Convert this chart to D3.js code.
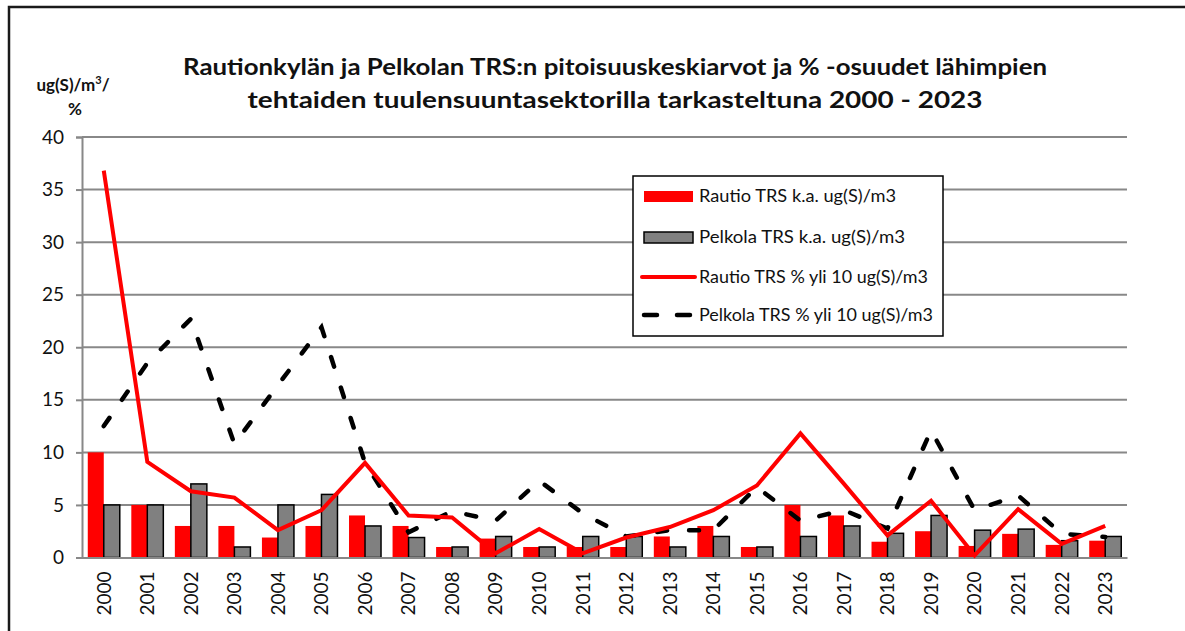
<!DOCTYPE html>
<html>
<head>
<meta charset="utf-8">
<script src="https://cdn.jsdelivr.net/npm/d3@7"></script>
<style>
  body { margin: 0; background: #fff; }
  text { font-family: Lato, "Open Sans", sans-serif; }
</style>
</head>
<body>
<svg width="1185" height="631"></svg>
<script>
// data
var years = ['2000','2001','2002','2003','2004','2005','2006','2007','2008','2009','2010','2011',
             '2012','2013','2014','2015','2016','2017','2018','2019','2020','2021','2022','2023'];
var rautioKa = [10, 5, 3, 3, 1.9, 3, 4, 3, 1, 1.8, 1, 1, 1, 2, 3, 1, 5, 4, 1.5, 2.5, 1.1, 2.25, 1.2, 1.6];
var pelkolaKa = [5, 5, 7, 1, 5, 6, 3, 1.9, 1, 2, 1, 2, 2, 1, 2, 1, 2, 3, 2.3, 4, 2.6, 2.7, 1.6, 2];
var rautioPct = [36.8, 9.1, 6.3, 5.7, 2.6, 4.5, 9.0, 4.0, 3.8, 0.4, 2.7, 0.4, 1.9, 2.9, 4.5, 6.85, 11.8, 7.0, 2.1, 5.4, 0.2, 4.6, 1.3, 3.0];
var pelkolaPct = [12.5, 18.5, 22.7, 10.8, 16.4, 21.9, 9.0, 2.4, 4.4, 3.5, 7.3, 4.2, 2.0, 2.6, 2.6, 6.7, 3.5, 4.5, 2.75, 12.1, 4.5, 5.9, 2.25, 1.95];
var yTicks = [0, 5, 10, 15, 20, 25, 30, 35, 40];
var legendLabels = ['Rautio TRS k.a. ug(S)/m3', 'Pelkola TRS k.a. ug(S)/m3',
                    'Rautio TRS % yli 10 ug(S)/m3', 'Pelkola TRS % yli 10 ug(S)/m3'];
var titleLines = ['Rautionkylän ja Pelkolan TRS:n pitoisuuskeskiarvot ja % -osuudet lähimpien',
                  'tehtaiden tuulensuuntasektorilla tarkasteltuna 2000 - 2023'];

var LEFT = 82, RIGHT = 1127, TOP = 137, BOTTOM = 557.5;
var svg = d3.select('svg');

// outer chart frame (only top/left visible in the screenshot)
svg.append('rect')
  .attr('x', 9).attr('y', 7)
  .attr('width', 1300).attr('height', 800)
  .attr('fill', 'none').attr('stroke', '#1a1a1a').attr('stroke-width', 2.5);

var xScale = d3.scaleBand().domain(years).range([LEFT, RIGHT]);
var yScale = d3.scaleLinear().domain([0, 40]).range([BOTTOM, TOP]);
var sub = d3.scaleBand().domain(['r', 'p']).range([0, 32]);

// gridlines
svg.append('g').selectAll('line').data(yTicks.slice(1)).enter()
  .append('line')
  .attr('x1', LEFT).attr('x2', RIGHT)
  .attr('y1', function(d){ return yScale(d); })
  .attr('y2', function(d){ return yScale(d); })
  .attr('stroke', '#888').attr('stroke-width', 2);

// y axis
var leftAxis = d3.axisLeft(yScale).tickValues(yTicks).tickSize(6).tickPadding(12);
var yAxis = svg.append('g').attr('transform', 'translate(' + LEFT + ',0)').call(leftAxis);
yAxis.select('.domain').attr('stroke', '#888').attr('stroke-width', 2);
yAxis.selectAll('.tick line').attr('stroke', '#888').attr('stroke-width', 2);
yAxis.selectAll('.tick text').attr('font-size', 19).attr('fill', '#111')
  .style('font-family', 'Lato, sans-serif');

// bars
var bars = svg.append('g');
bars.selectAll('rect.r').data(rautioKa).enter().append('rect')
  .attr('class', 'r')
  .attr('x', function(d, i){ return xScale(years[i]) + xScale.bandwidth() / 2 - 16 + sub('r'); })
  .attr('y', function(d){ return yScale(d); })
  .attr('width', sub.bandwidth())
  .attr('height', function(d){ return BOTTOM - yScale(d); })
  .attr('fill', '#ff0000');
bars.selectAll('rect.p').data(pelkolaKa).enter().append('rect')
  .attr('class', 'p')
  .attr('x', function(d, i){ return xScale(years[i]) + xScale.bandwidth() / 2 - 16 + sub('p'); })
  .attr('y', function(d){ return yScale(d); })
  .attr('width', sub.bandwidth())
  .attr('height', function(d){ return BOTTOM - yScale(d); })
  .attr('fill', '#808080').attr('stroke', '#000').attr('stroke-width', 1.5);

// x axis
var botAxis = d3.axisBottom(xScale).tickSize(0).tickPadding(0);
var xAxis = svg.append('g').attr('transform', 'translate(0,' + BOTTOM + ')').call(botAxis);
xAxis.select('.domain').attr('stroke', '#888').attr('stroke-width', 2);
xAxis.selectAll('.tick text')
  .attr('font-size', 19).attr('fill', '#111')
  .style('font-family', 'Lato, sans-serif')
  .attr('text-anchor', 'end')
  .attr('transform', 'rotate(-90)')
  .attr('x', -14).attr('y', 0).attr('dy', '0.36em');

// lines
var line = d3.line()
  .x(function(d, i){ return xScale(years[i]) + xScale.bandwidth() / 2; })
  .y(function(d){ return yScale(d); });
svg.append('path').datum(pelkolaPct)
  .attr('d', line).attr('fill', 'none')
  .attr('stroke', '#000').attr('stroke-width', 4.5)
  .attr('stroke-dasharray', '10,22').attr('stroke-linecap', 'round');
svg.append('path').datum(rautioPct)
  .attr('d', line).attr('fill', 'none')
  .attr('stroke', '#ff0000').attr('stroke-width', 4)
  .attr('stroke-linejoin', 'miter');

// title
var title = svg.append('g');
title.selectAll('text').data(titleLines).enter().append('text')
  .attr('x', 615).attr('y', function(d, i){ return 75 + i * 33; })
  .attr('text-anchor', 'middle')
  .attr('font-size', 23).attr('font-weight', 'bold').attr('fill', '#111')
  .attr('textLength', function(d, i){ return i === 0 ? 864 : 735; })
  .attr('lengthAdjust', 'spacingAndGlyphs')
  .text(function(d){ return d; });

// y unit label
var unit = svg.append('text')
  .attr('x', 73).attr('y', 91)
  .attr('text-anchor', 'middle')
  .attr('font-size', 17).attr('font-weight', 'bold').attr('fill', '#111');
unit.append('tspan').text('ug(S)/m');
unit.append('tspan').attr('font-size', 11).attr('dy', -7).text('3');
unit.append('tspan').attr('dy', 7).text('/');
svg.append('text')
  .attr('x', 75).attr('y', 115)
  .attr('text-anchor', 'middle')
  .attr('font-size', 17).attr('font-weight', 'bold').attr('fill', '#111')
  .text('%');

// legend
var legend = svg.append('g').attr('transform', 'translate(633,176)');
legend.append('rect')
  .attr('width', 310).attr('height', 160)
  .attr('fill', '#fff').attr('stroke', '#000').attr('stroke-width', 1.5);
var rowY = [20, 61, 101, 139];
legend.append('rect').attr('x', 11).attr('y', rowY[0] - 5).attr('width', 49).attr('height', 11)
  .attr('fill', '#ff0000');
legend.append('rect').attr('x', 11).attr('y', rowY[1] - 5).attr('width', 49).attr('height', 11)
  .attr('fill', '#808080').attr('stroke', '#000').attr('stroke-width', 1.5);
legend.append('line').attr('x1', 9).attr('x2', 62).attr('y1', rowY[2]).attr('y2', rowY[2])
  .attr('stroke', '#ff0000').attr('stroke-width', 4).attr('stroke-linecap', 'round');
legend.append('line').attr('x1', 11).attr('x2', 60).attr('y1', rowY[3]).attr('y2', rowY[3])
  .attr('stroke', '#000').attr('stroke-width', 4.5).attr('stroke-linecap', 'round')
  .attr('stroke-dasharray', '13,20');
legend.selectAll('text.lab').data(legendLabels).enter().append('text')
  .attr('class', 'lab')
  .attr('x', 66).attr('y', function(d, i){ return rowY[i]; })
  .attr('dy', '0.35em')
  .attr('font-size', 17).attr('fill', '#111')
  .attr('textLength', function(d, i){ return [197, 206, 229, 234][i]; })
  .attr('lengthAdjust', 'spacingAndGlyphs')
  .text(function(d){ return d; });
</script>
</body>
</html>
